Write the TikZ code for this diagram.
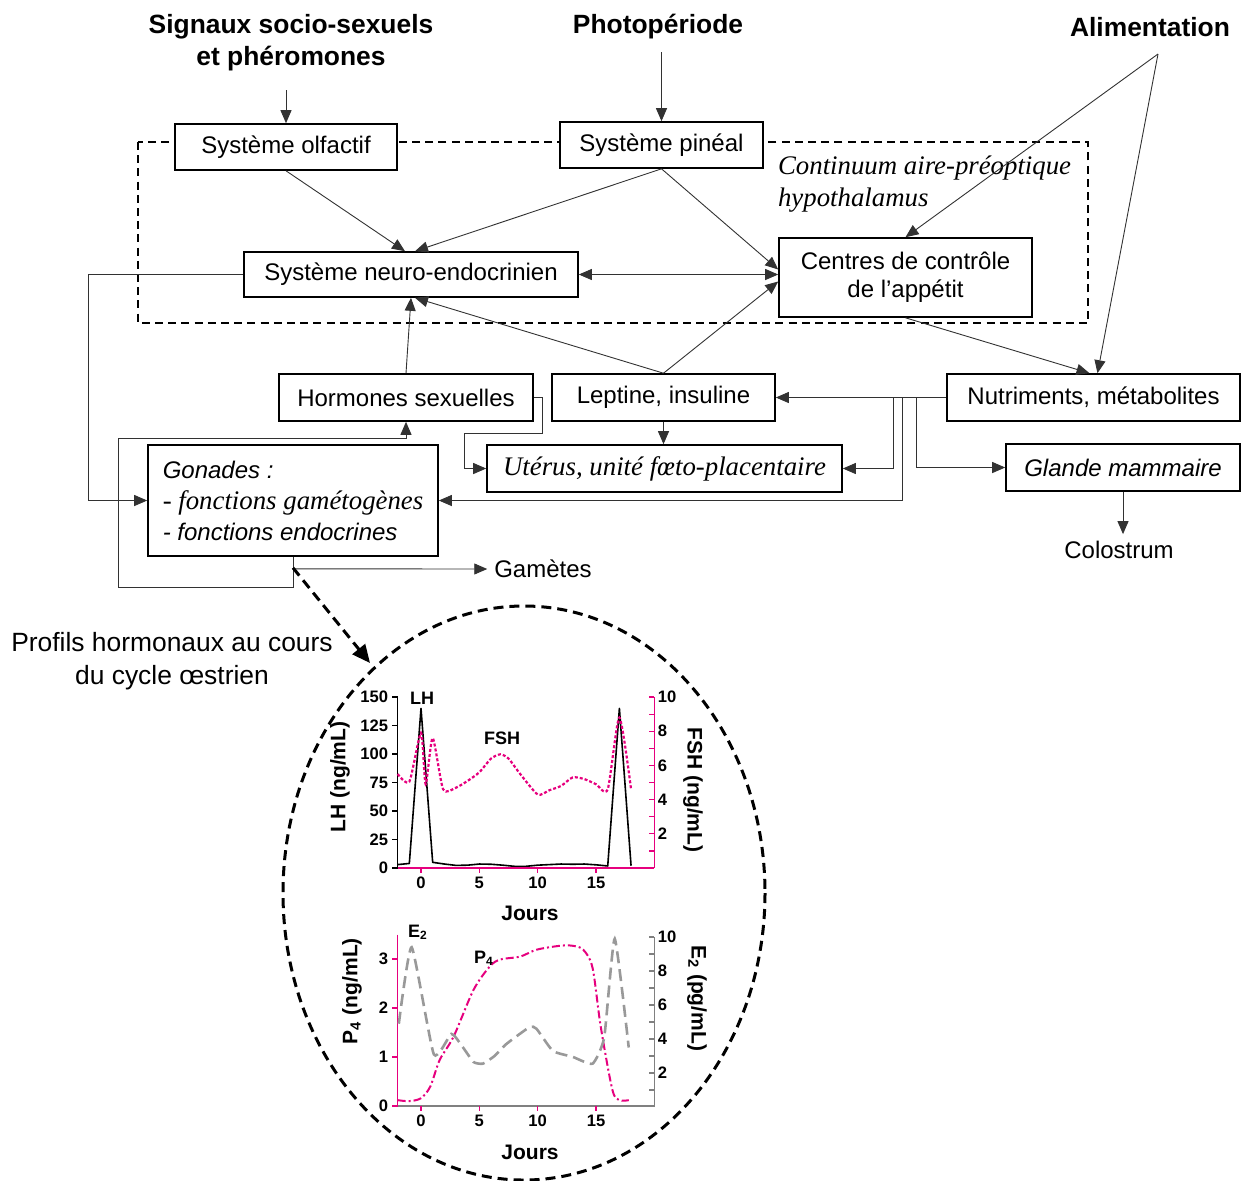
\documentclass[tikz,border=0pt]{standalone}
\usepackage{fontspec}
\setmainfont{Liberation Sans}
\newfontfamily\seriffont{Liberation Serif}
\usetikzlibrary{arrows.meta, positioning}
\definecolor{pinkc}{RGB}{230,0,126}
\definecolor{linec}{RGB}{50,50,50}

\begin{document}
\begin{tikzpicture}[
    x=0.5pt, y=-0.5pt,
    >={Triangle[length=6.5pt,width=5.5pt]},
    box/.style={rectangle, draw, line width=0.8pt, fill=white, inner sep=0pt, align=center, font=\fontsize{12}{14}\selectfont},
    title/.style={align=center, font=\fontsize{13.2}{16}\selectfont\bfseries},
    plain/.style={font=\fontsize{12}{14}\selectfont},
    serifit/.style={font=\fontsize{13.4}{16}\selectfont\seriffont\itshape},
    arrow/.style={->, line width=0.45pt, draw=linec},
    zone/.style={line width=0.9pt, dash pattern=on 4pt off 2.6pt},
    zoomarrow/.style={->, line width=1.5pt, dash pattern=on 5pt off 3pt, >={Triangle[length=9pt,width=8pt]}},
    ticklab/.style={font=\fontsize{8.3}{9}\selectfont\bfseries, inner sep=1.5pt},
    axlab/.style={font=\fontsize{10.5}{12}\selectfont\bfseries},
    curvelab/.style={font=\fontsize{9}{10}\selectfont\bfseries}
]
\useasboundingbox (0,0) rectangle (1241,1180);

% Hypothalamus zone
\draw[zone] (138,142) rectangle (1088,323);
\node[serifit, align=left, anchor=west] (hypolab) at (771,184) {Continuum aire-préoptique\\hypothalamus};

% Inputs
\node[title] (signaux) at (291,43) {Signaux socio-sexuels\\et phéromones};
\node[title] (photo) at (658,27) {Photopériode};
\node[title] (alim) at (1150,27) {Alimentation};
\coordinate (alimtop) at (1158,54);

% Boxes
\node[box, minimum width=111pt, minimum height=23pt] (olf) at (286,147) {Système olfactif};
\node[box, minimum width=101.5pt, minimum height=23pt] (pineal) at (661.5,145) {Système pinéal};
\node[box, minimum width=167pt, minimum height=22.5pt] (neuro) at (411,274.5) {Système neuro-endocrinien};
\node[box, minimum width=126.5pt, minimum height=39.5pt] (appetit) at (905.5,277.5) {Centres de contrôle\\de l’appétit};
\node[box, minimum width=127pt, minimum height=23.5pt] (hormones) at (406,397.5) {Hormones sexuelles};
\node[box, minimum width=111.5pt, minimum height=23.5pt] (leptine) at (663.5,397.5) {Leptine, insuline};
\node[box, minimum width=146.5pt, minimum height=23.5pt] (nutri) at (1093.5,397.5) {Nutriments, métabolites};
\node[box, serifit, minimum width=177.5pt, minimum height=23.5pt] (uterus) at (664.5,468.5) {Utérus, unité fœto-placentaire};
\node[box, font=\fontsize{12}{14}\selectfont\itshape, minimum width=117pt, minimum height=23.5pt] (mammaire) at (1123,467.5) {Glande mammaire};
\node[box, align=left, minimum width=145pt, minimum height=55.5pt, font=\fontsize{12}{15.5}\selectfont\itshape] (gonades) at (293,500.5)
    {Gonades :\\{\seriffont\fontsize{13.4}{15.5}\selectfont - fonctions gamétogènes}\\- fonctions endocrines};

% Outputs
\node[plain] (gametes) at (543,569) {Gamètes};
\node[plain] (colostrum) at (1119,550) {Colostrum};
\node[align=center, font=\fontsize{13.2}{16.5}\selectfont] (profils) at (172,661) {Profils hormonaux au cours\\du cycle œstrien};

% Arrows
\draw[arrow, shorten <=6pt] (olf.north |- signaux.south) -- (olf.north);
\draw[arrow, shorten <=3pt] (pineal.north |- photo.south) -- (pineal.north);
\draw[arrow] (alimtop) -- (appetit.north);
\draw[arrow] (alimtop) -- ([xshift=2pt]nutri.north);

\draw[arrow] (olf.south) -- ([xshift=-3pt]neuro.north);
\draw[arrow] (pineal.south) -- ([xshift=2pt]neuro.north);
\draw[arrow] (pineal.south) -- ([yshift=4pt]appetit.west);
\draw[arrow, <->] (neuro.east) -- (neuro.east -| appetit.west);
\draw[arrow] (leptine.north) -- ([yshift=-2pt]appetit.west);
\draw[arrow] (leptine.north) -- ([xshift=2pt]neuro.south);
\draw[arrow] (hormones.north) -- (neuro.south);
\draw[arrow] (appetit.south) -- ([xshift=-2pt]nutri.north);

\draw[arrow] (neuro.west) -- ++(-155,0) |- (gonades.west);
\draw[arrow] (gonades.south) -- ++(0,31) -- ++(-175,0) |- (hormones.south |- 0,438) -- (hormones.south);
\draw[arrow] (gonades.south) ++(0,12) -- (gametes.west);
\draw[arrow] (hormones.east) -- ++(9,0) -- ++(0,36) -| ([xshift=-11pt]uterus.west) -- (uterus.west);
\draw[arrow] (leptine.south) -- (leptine.south |- uterus.north);

\draw[arrow] (nutri.west) -- (leptine.east);
\draw[arrow] (nutri.west) ++(-53,0) |- (uterus.east);
\draw[arrow] (nutri.west) ++(-44,0) |- (gonades.east);
\draw[arrow] (nutri.west) ++(-30,0) |- (mammaire.west);
\draw[arrow] (mammaire.south) -- (mammaire.south |- colostrum.north);

% LH / FSH chart
\begin{scope}[shift={(421,868)}, x=5.835pt, y=0.57pt]
  \draw[line width=0.8pt, line join=round] plot coordinates {(-2,3) (-1,4) (0,140) (1,5) (2,3.5) (3,2.3) (4,2.5) (5,3.5) (6,3.3) (7,2.5) (8,1.5) (9,1.5) (10,2.5) (11,3) (12,3.5) (13,3.3) (14,3.5) (15,2.8) (16,1.8) (17,140) (18,2)};
  \draw[line width=0.7pt] (-2,150) -- (-2,0);
  \foreach \v in {0,25,...,150}
    \draw[line width=0.6pt] (-2,\v) -- ++(-3pt,0) node[ticklab, left] {\v};
  \draw[pinkc, line width=0.8pt] (-2,0) -- (20,0);
  \foreach \d in {0,5,...,15}
    \draw[pinkc, line width=0.6pt] (\d,0) -- ++(0,-2.5pt) node[ticklab, below, text=black] {\d};
\end{scope}
\begin{scope}[shift={(421,868)}, x=5.835pt, y=8.55pt]
  \draw[pinkc, line width=1.1pt, dash pattern=on 1.5pt off 1pt] plot[smooth, tension=0.4] coordinates {(-2,5.5) (-1,5.05) (0,7.9) (0.4,4.9) (1,7.6) (1.9,4.6) (3,4.7) (4,5.1) (5,5.6) (6,6.4) (6.8,6.65) (7.5,6.4) (8.5,5.5) (10,4.3) (11,4.55) (12,4.8) (13,5.3) (14,5.2) (15,4.9) (16,4.6) (17,8.8) (18,4.6)};
  \draw[pinkc, line width=0.8pt] (20,0) -- (20,10);
  \foreach \v in {1,...,10}
    \draw[pinkc, line width=0.6pt] (20,\v) -- ++(-2.5pt,0);
  \foreach \v in {2,4,...,10}
    \node[ticklab, right] at (20,\v) {\v};
\end{scope}

% P4 / E2 chart
\begin{scope}[shift={(421,1106)}, x=5.835pt, y=24.5pt]
  \draw[pinkc, line width=1pt, dash pattern=on 4pt off 1.5pt on 1pt off 1.5pt] plot[smooth, tension=0.5] coordinates {(-2,0.12) (-1,0.1) (0,0.16) (0.8,0.4) (1.6,0.94) (2.8,1.42) (4.5,2.37) (5.9,2.85) (6.8,2.99) (8.5,3.05) (9.9,3.19) (11.9,3.27) (13,3.27) (13.9,3.19) (14.7,2.82) (15.4,1.62) (16.4,0.33) (17,0.12) (17.8,0.12)};
  \draw[pinkc, line width=0.8pt] (-2,3.5) -- (-2,0);
  \foreach \v in {0,1,2,3}
    \draw[pinkc, line width=0.6pt] (-2,\v) -- ++(-3pt,0) node[ticklab, left, text=black] {\v};
  \draw[gray, line width=0.9pt] (-2,0) -- (20,0);
  \foreach \d in {0,5,...,15}
    \draw[pinkc, line width=0.6pt] (\d,0) -- ++(0,-2.5pt) node[ticklab, below, text=black] {\d};
\end{scope}
\begin{scope}[shift={(421,1107)}, x=5.835pt, y=8.5pt]
  \draw[gray!80, line width=1.3pt, dash pattern=on 6pt off 3pt] plot[smooth, tension=0.3] coordinates {(-1.9,4.9) (-0.8,9.4) (1.1,3.1) (2.6,4.3) (3.5,3.6) (4.5,2.65) (5.3,2.55) (6.3,3.0) (7.3,3.7) (9.3,4.7) (9.9,4.6) (11.3,3.3) (13,2.95) (14.7,2.55) (15.7,4.1) (16.6,9.9) (17.8,3.5)};
  \draw[gray, line width=0.9pt] (20,0) -- (20,10);
  \foreach \v in {1,...,10}
    \draw[gray, line width=0.6pt] (20,\v) -- ++(-2.5pt,0);
  \foreach \v in {2,4,...,10}
    \node[ticklab, right] at (20,\v) {\v};
\end{scope}

% Chart labels
\node[axlab, rotate=90] (lhaxis) at (340,777) {LH (ng/mL)};
\node[axlab, rotate=-90] (fshaxis) at (693,790) {FSH (ng/mL)};
\node[axlab] (jours1) at (530,913) {Jours};
\node[axlab, rotate=90] (p4axis) at (352,991) {P\textsubscript{4} (ng/mL)};
\node[axlab, rotate=-90] (e2axis) at (697,998) {E\textsubscript{2} (pg/mL)};
\node[axlab] (jours2) at (530,1152) {Jours};
\node[curvelab] (lhlab) at (422,698) {LH};
\node[curvelab] (fshlab) at (502,738) {FSH};
\node[curvelab] (e2lab) at (418,932) {E\textsubscript{2}};
\node[curvelab] (p4lab) at (484,958) {P\textsubscript{4}};

% Zoom on hormone profiles
\draw[line width=1.5pt, dash pattern=on 5pt off 3pt] (524,893) ellipse [x radius=241, y radius=287];
\coordinate (elltip) at (370,663);
\draw[zoomarrow] (gonades.south) ++(0,11) -- (elltip);

\end{tikzpicture}
\end{document}
